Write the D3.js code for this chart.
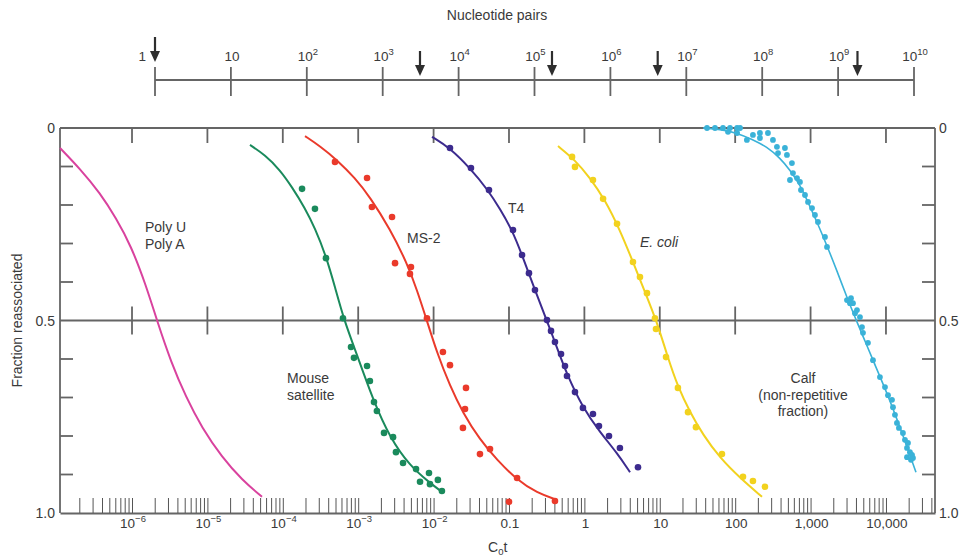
<!DOCTYPE html>
<html>
<head>
<meta charset="utf-8">
<script src="https://cdn.jsdelivr.net/npm/d3@7"></script>
<style>
  body { margin: 0; background: #fff; }
  svg text { font-family: "Liberation Sans", Arial, Helvetica, sans-serif; fill: #3a3a3a; }
</style>
</head>
<body>
<div id="chart"></div>
<script>
// C0t tick values and labels (bottom axis)
const cotTicks = [1e-6, 1e-5, 1e-4, 1e-3, 1e-2, 0.1, 1, 10, 100, 1000, 10000];
const cotTickLabels = [['10', '\u22126'], ['10', '\u22125'], ['10', '\u22124'], ['10', '\u22123'], ['10', '\u22122'],
  ['0.1'], ['1'], ['10'], ['100'], ['1,000'], ['10,000']];

// nucleotide pairs axis (top)
const nucTicks = [1, 1e1, 1e2, 1e3, 1e4, 1e5, 1e6, 1e7, 1e8, 1e9, 1e10];
const nucTickLabels = [['1'], ['10'], ['10', '2'], ['10', '3'], ['10', '4'], ['10', '5'],
  ['10', '6'], ['10', '7'], ['10', '8'], ['10', '9'], ['10', '10']];
const genomeArrows = [1, 3.1e3, 1.7e5, 4.2e6, 1.8e9];

const fracTicks = [0.1, 0.2, 0.3, 0.4, 0.6, 0.7, 0.8, 0.9];
const fracLabels = [[0, '0'], [0.5, '0.5'], [1, '1.0']];

// [C0t, fraction reassociated]
const polyCurve = [[1.11e-7, 0.052], [2.04e-7, 0.106], [3.77e-7, 0.169], [6.14e-7, 0.234], [9.70e-7, 0.306],
  [1.53e-6, 0.408], [2.15e-6, 0.501], [3.29e-6, 0.608], [5.20e-6, 0.699], [8.48e-6, 0.779],
  [1.56e-5, 0.855], [2.88e-5, 0.914], [5.30e-5, 0.958]];

const mouseCurve = [[3.67e-5, 0.044], [5.81e-5, 0.070], [9.18e-5, 0.109], [1.32e-4, 0.153], [1.97e-4, 0.208],
  [2.67e-4, 0.260], [3.74e-4, 0.332], [4.92e-4, 0.413], [6.49e-4, 0.499], [9.35e-4, 0.582],
  [1.57e-3, 0.706], [2.64e-3, 0.805], [4.86e-3, 0.878], [8.95e-3, 0.922], [1.29e-2, 0.945]];
const mouseDots = [[1.80e-4, 0.158], [2.67e-4, 0.210], [3.74e-4, 0.338], [6.28e-4, 0.494], [8.03e-4, 0.569],
  [8.79e-4, 0.597], [1.31e-3, 0.618], [1.43e-3, 0.657], [1.62e-3, 0.712], [1.77e-3, 0.735],
  [2.20e-3, 0.792], [2.90e-3, 0.803], [3.17e-3, 0.842], [3.93e-3, 0.870], [5.85e-3, 0.886],
  [8.69e-3, 0.896], [6.61e-3, 0.919], [8.95e-3, 0.925], [1.14e-2, 0.914], [1.29e-2, 0.943]];

const ms2Curve = [[1.97e-4, 0.021], [3.11e-4, 0.047], [5.24e-4, 0.083], [9.08e-4, 0.130], [1.43e-3, 0.179],
  [2.64e-3, 0.262], [4.44e-3, 0.351], [6.03e-3, 0.421], [8.17e-3, 0.501], [1.11e-2, 0.584],
  [1.65e-2, 0.670], [2.45e-2, 0.740], [4.12e-2, 0.810], [6.93e-2, 0.862], [0.128, 0.914],
  [0.235, 0.948], [0.434, 0.966]];
const ms2Dots = [[4.92e-4, 0.088], [1.31e-3, 0.130], [1.52e-3, 0.205], [2.81e-3, 0.231], [3.08e-3, 0.351],
  [5.01e-3, 0.361], [4.86e-3, 0.379], [8.17e-3, 0.494], [1.33e-2, 0.582], [1.65e-2, 0.616],
  [2.69e-2, 0.675], [2.61e-2, 0.730], [2.45e-2, 0.779], [4.12e-2, 0.847], [5.60e-2, 0.834],
  [0.128, 0.909], [0.100, 0.971], [0.407, 0.969]];

const t4Curve = [[9.53e-3, 0.023], [1.65e-2, 0.052], [3.04e-2, 0.104], [5.26e-2, 0.161], [7.60e-2, 0.210],
  [0.110, 0.265], [0.149, 0.330], [0.221, 0.421], [0.319, 0.501], [0.407, 0.556], [0.588, 0.641],
  [0.957, 0.727], [1.61, 0.790], [2.71, 0.844], [4.03, 0.894]];
const t4Dots = [[1.65e-2, 0.052], [3.13e-2, 0.104], [5.43e-2, 0.161], [0.113, 0.265], [0.149, 0.330],
  [0.184, 0.377], [0.221, 0.421], [0.319, 0.499], [0.361, 0.527], [0.407, 0.556], [0.490, 0.587],
  [0.553, 0.618], [0.588, 0.644], [0.750, 0.686], [0.957, 0.727], [1.30, 0.743], [1.56, 0.774],
  [2.12, 0.800], [2.96, 0.831], [5.14, 0.881]];

const ecoliCurve = [[0.447, 0.047], [0.750, 0.083], [1.19, 0.130], [1.88, 0.187], [2.96, 0.265], [4.41, 0.348],
  [6.37, 0.426], [9.19, 0.504], [12.5, 0.590], [17.4, 0.673], [25.2, 0.738], [37.4, 0.797],
  [62.9, 0.857], [116, 0.909], [227, 0.958]];
const ecoliDots = [[0.686, 0.075], [0.750, 0.101], [1.30, 0.135], [1.77, 0.184], [2.71, 0.249], [4.41, 0.348],
  [5.46, 0.387], [6.76, 0.429], [8.63, 0.494], [8.91, 0.522], [12.1, 0.595], [17.4, 0.675],
  [23.7, 0.738], [30.2, 0.777], [66.8, 0.847], [127, 0.906], [172, 0.917], [248, 0.932]];

const calfCurve = [[37.4, 0.0], [62.9, 0.003], [106, 0.013], [167, 0.029], [264, 0.049], [393, 0.078],
  [533, 0.109], [723, 0.148], [895, 0.187], [1216, 0.244], [1652, 0.306], [2239, 0.371],
  [3041, 0.441], [4125, 0.504], [5265, 0.553], [6724, 0.603], [10310, 0.688], [15350, 0.777], [25000, 0.894]];
const calfDots = [[42.3, 0], [54.0, 0], [68.9, 0], [85.3, 0], [106, 0], [116, 0], [80.3, 0.010], [106, 0.013],
  [143, 0.031], [172, 0.018], [213, 0.013], [213, 0.026], [272, 0.013], [317, 0.031], [358, 0.049],
  [457, 0.052], [370, 0.065], [486, 0.070], [566, 0.091], [584, 0.117], [533, 0.135], [661, 0.130],
  [723, 0.140], [746, 0.161], [843, 0.174], [925, 0.192], [1045, 0.208], [1143, 0.226], [1253, 0.244],
  [1552, 0.283], [1652, 0.309], [3041, 0.447], [3436, 0.442], [3648, 0.455], [4125, 0.473],
  [4519, 0.491], [4808, 0.517], [3334, 0.455], [3882, 0.481], [4955, 0.532], [5768, 0.558],
  [6724, 0.603], [8318, 0.647], [9705, 0.673], [10640, 0.694], [12020, 0.706], [12390, 0.725],
  [13160, 0.745], [13990, 0.766], [14860, 0.779], [16790, 0.792], [17860, 0.810], [19580, 0.818],
  [19010, 0.831], [20800, 0.842], [22130, 0.849], [19010, 0.855], [21470, 0.862], [22800, 0.857]];

const series = [
  { curve: polyCurve, dots: [], color: '#d9429e' },
  { curve: mouseCurve, dots: mouseDots, color: '#1a8a5c' },
  { curve: ms2Curve, dots: ms2Dots, color: '#ea3a2b' },
  { curve: t4Curve, dots: t4Dots, color: '#3c2b8e' },
  { curve: ecoliCurve, dots: ecoliDots, color: '#f2d21e' },
  { curve: calfCurve, dots: calfDots, color: '#3ab2d8' }
];

const axisColor = '#656565';
const plotLeft = 60, plotRight = 935, plotTop = 128, plotBottom = 513;

const svg = d3.select('#chart')
  .append('svg')
  .attr('width', 960)
  .attr('height', 558);

// scales
const x = d3.scaleLog().domain([1.109e-7, 4.47e4]).range([plotLeft, plotRight]);
const y = d3.scaleLinear().domain([0, 1]).range([plotTop, plotBottom]);
const nx = d3.scaleLog().domain([1, 1e10]).range([155, 914]);

// frame
const frame = svg.append('g')
  .attr('stroke', axisColor)
  .attr('stroke-width', 1.8)
  .attr('fill', 'none');
frame.append('line').attr('x1', plotLeft).attr('x2', plotRight).attr('y1', y(0)).attr('y2', y(0));
frame.append('line').attr('x1', plotLeft).attr('x2', plotRight).attr('y1', y(0.5)).attr('y2', y(0.5));
frame.append('line').attr('x1', plotLeft).attr('x2', plotLeft).attr('y1', y(0)).attr('y2', y(1));
frame.append('line').attr('x1', plotRight).attr('x2', plotRight).attr('y1', y(0)).attr('y2', y(1));

//bottom axis: minor ticks pointing up
const minorTicks = x.ticks(150);
svg.append('g')
  .attr('transform', `translate(0,${y(1)})`)
  .call(d3.axisTop(x).tickValues(minorTicks).tickSize(15).tickSizeOuter(0).tickFormat(''))
  .call(g => g.select('.domain').attr('stroke', axisColor).attr('stroke-width', 1.8))
  .call(g => g.selectAll('.tick line').attr('stroke', '#555').attr('stroke-width', 1));

// decade ticks on top line and mid line
frame.selectAll('.top-tick')
  .data(cotTicks)
  .join('line')
  .attr('x1', d => x(d)).attr('x2', d => x(d))
  .attr('y1', y(0)).attr('y2', y(0) + 15);
frame.selectAll('.mid-tick')
  .data(cotTicks)
  .join('line')
  .attr('x1', d => x(d)).attr('x2', d => x(d))
  .attr('y1', y(0.5) - 14).attr('y2', y(0.5) + 14);

// fraction ticks on both sides
frame.selectAll('.ly-tick')
  .data(fracTicks)
  .join('line')
  .attr('x1', plotLeft).attr('x2', plotLeft + 13)
  .attr('y1', d => y(d)).attr('y2', d => y(d));
frame.selectAll('.ry-tick')
  .data(fracTicks)
  .join('line')
  .attr('x1', plotRight - 13).attr('x2', plotRight)
  .attr('y1', d => y(d)).attr('y2', d => y(d));

// labels with superscripts
function powerLabel(sel, parts) {
  sel.append('tspan').text(parts[0]);
  if (parts[1]) {
    sel.append('tspan').attr('dy', -6).attr('font-size', 9.5).text(parts[1]);
  }
}
cotTicks.forEach((v, i) => {
  const t = svg.append('text')
    .attr('x', x(v) + 1)
    .attr('y', 528)
    .attr('text-anchor', 'middle')
    .attr('font-size', 13.5);
  powerLabel(t, cotTickLabels[i]);
});

// y labels
fracLabels.forEach(([v, s]) => {
  svg.append('text').attr('x', 55).attr('y', y(v) + 5)
    .attr('text-anchor', 'end').attr('font-size', 14).text(s);
  svg.append('text').attr('x', 939).attr('y', y(v) + 5)
    .attr('text-anchor', 'start').attr('font-size', 14).text(s);
});

// axis titles
svg.append('text')
  .attr('transform', `translate(22,${y(0.5)}) rotate(-90)`)
  .attr('text-anchor', 'middle')
  .attr('font-size', 14)
  .text('Fraction reassociated');

const cot = svg.append('text').attr('x', 488).attr('y', 552).attr('font-size', 14);
cot.append('tspan').text('C');
cot.append('tspan').attr('dy', 3).attr('font-size', 9.5).text('0');
cot.append('tspan').attr('dy', -3).text('t');

// top nucleotide pairs axis
svg.append('text')
  .attr('x', 497).attr('y', 20)
  .attr('text-anchor', 'middle')
  .attr('font-size', 14)
  .text('Nucleotide pairs');

const nuc = svg.append('g')
  .attr('stroke', axisColor)
  .attr('stroke-width', 1.8);
nuc.append('line').attr('x1', nx(1)).attr('x2', nx(1e10)).attr('y1', 80).attr('y2', 80);
nuc.selectAll('.n-tick')
  .data(nucTicks)
  .join('line')
  .attr('x1', d => nx(d)).attr('x2', d => nx(d))
  .attr('y1', 67).attr('y2', 96);

nucTicks.forEach((v, i) => {
  const first = i === 0;
  const t = svg.append('text')
    .attr('x', first ? nx(v) - 9 : nx(v) + 1)
    .attr('y', 61)
    .attr('text-anchor', first ? 'end' : 'middle')
    .attr('font-size', 13.5);
  powerLabel(t, nucTickLabels[i]);
});

// genome size arrows
genomeArrows.forEach((v, i) => {
  const tip = i === 0 ? 62 : 76;
  const g = svg.append('g').attr('fill', '#2e2e2e').attr('stroke', '#2e2e2e');
  g.append('line')
    .attr('x1', nx(v)).attr('x2', nx(v))
    .attr('y1', tip - 25).attr('y2', tip - 6)
    .attr('stroke-width', 2.2);
  g.append('path')
    .attr('stroke', 'none')
    .attr('d', `M${nx(v) - 5},${tip - 11}L${nx(v) + 5},${tip - 11}L${nx(v)},${tip}Z`);
});

// curves and points
const line = d3.line()
  .x(d => x(d[0]))
  .y(d => y(d[1]))
  .curve(d3.curveBasis);

series.forEach((s, i) => {
  svg.append('path')
    .datum(s.curve)
    .attr('fill', 'none')
    .attr('stroke', s.color)
    .attr('stroke-width', i === 5 ? 1.6 : 2)
    .attr('d', line);
  svg.append('g')
    .selectAll('circle')
    .data(s.dots)
    .join('circle')
    .attr('cx', d => x(d[0]))
    .attr('cy', d => y(d[1]))
    .attr('r', i === 5 ? 2.9 : 3.3)
    .attr('fill', s.color);
});

// curve annotations
const notes = [
  { lines: ['Poly U', 'Poly A'], x: 145, y: 232, anchor: 'start' },
  { lines: ['MS-2'], x: 407, y: 243, anchor: 'start' },
  { lines: ['T4'], x: 508, y: 213, anchor: 'start' },
  { lines: ['E. coli'], x: 640, y: 247, anchor: 'start', italic: true },
  { lines: ['Mouse', 'satellite'], x: 287, y: 383, anchor: 'start' },
  { lines: ['Calf', '(non-repetitive', 'fraction)'], x: 803, y: 383, anchor: 'middle' }
];
notes.forEach(n => {
  const t = svg.append('text')
    .attr('text-anchor', n.anchor)
    .attr('font-size', 14)
    .attr('font-style', n.italic ? 'italic' : 'normal');
  n.lines.forEach((l, k) => {
    t.append('tspan').attr('x', n.x).attr('y', n.y + k * 16.5).text(l);
  });
});
</script>
</body>
</html>
